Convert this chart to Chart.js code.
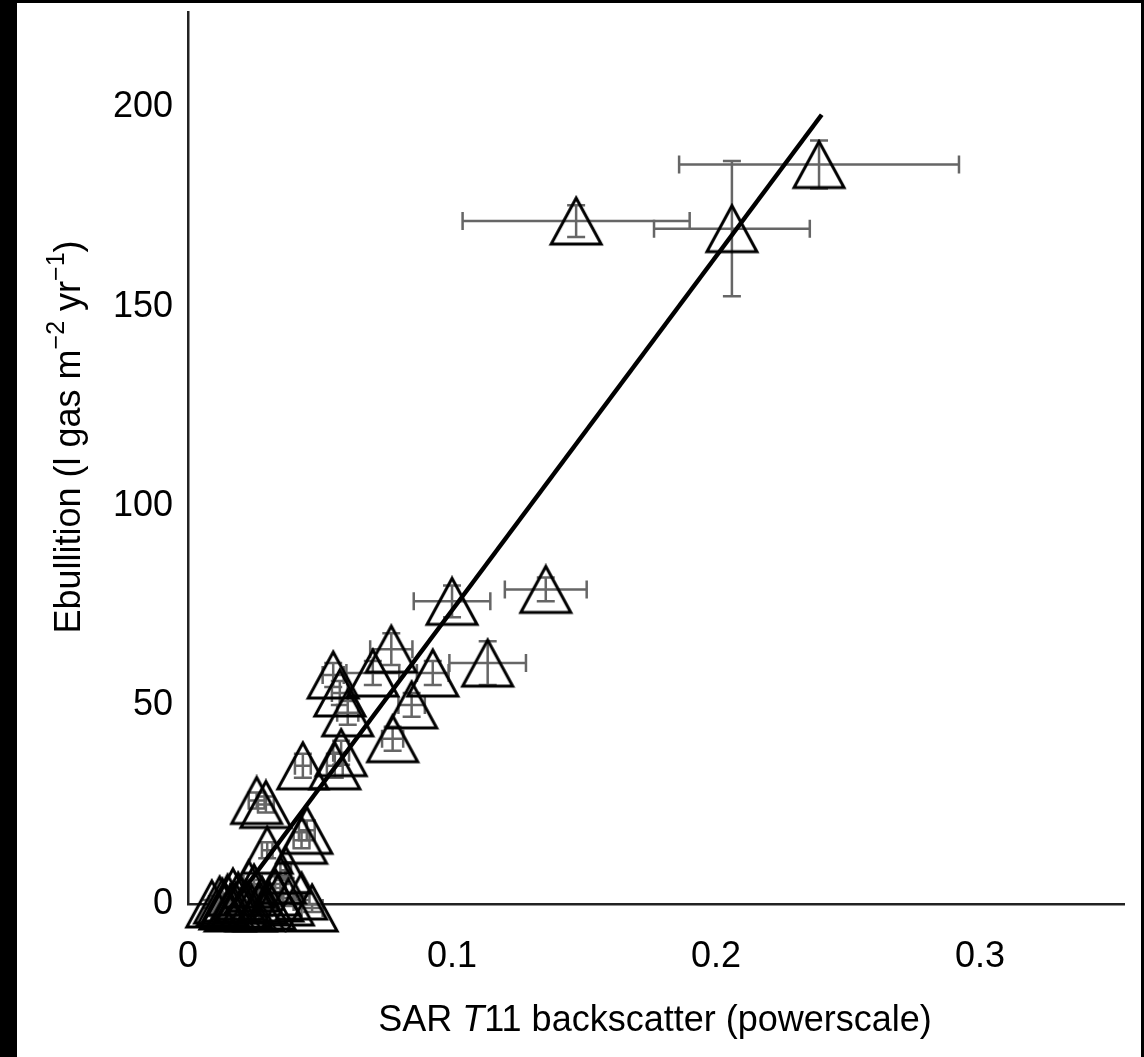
<!DOCTYPE html>
<html>
<head>
<meta charset="utf-8">
<script src="https://cdn.jsdelivr.net/npm/chart.js@4/dist/chart.umd.min.js"></script>
<style>
  html, body { margin: 0; padding: 0; background: #000; }
  #wrap { position: absolute; left: 17px; top: 3px; width: 1124px; height: 1054px; background: #fff; }
</style>
</head>
<body>
<div id="wrap"><canvas id="EbChart"></canvas></div>
<script>
// values
const xVals = [0.239, 0.147, 0.206, 0.100, 0.1355, 0.1135,
  0.077, 0.055, 0.070, 0.0927, 0.0575, 0.0847, 0.0605, 0.0775, 0.0435, 0.0556, 0.058,
  0.026, 0.0295, 0.045, 0.043, 0.030, 0.037,
  0.047, 0.043, 0.038, 0.033, 0.028, 0.025, 0.022, 0.019, 0.016, 0.013, 0.011, 0.009,
  0.015, 0.018, 0.023, 0.031, 0.035, 0.012, 0.014, 0.020, 0.017, 0.027,
  0.010, 0.013, 0.016, 0.019, 0.021, 0.024, 0.029, 0.034];
const yVals = [185.7, 171.5, 169.6, 76, 79, 60.5,
  64, 57.5, 58, 58, 53, 50, 48, 41.5, 34.7, 34.7, 38,
  26, 25, 18.5, 16, 13.5, 8.5,
  -1, 2, 0.5, 3, 1, 4, 0, 2, -1, 0.5, -1.5, 0,
  1.5, -0.5, 5, -0.5, 6, 1, -0.5, 1, 3, -1,
  -2, -2.5, -2, -1.5, -2, -1, -2, 1.5];
const xErr = [0.053, 0.043, 0.0295, 0.0145, 0.0155, 0.0145,
  0.008, 0.004, 0.01, 0.006, 0.003, 0.005, 0.004, 0.004, 0.003, 0.003, 0.003,
  0.003, 0.003, 0.003, 0.003, 0.002, 0.002,
  0.004, 0.003, 0.002, 0.002, 0.002, 0.002, 0.002, 0.002, 0.002, 0.002, 0.001, 0.001,
  0.002, 0.002, 0.002, 0.002, 0.002, 0.001, 0.001, 0.001, 0.001, 0.002,
  0.001, 0.001, 0.001, 0.001, 0.001, 0.001, 0.002, 0.002];
const yErr = [6, 4, 17, 4, 3, 5.5,
  4, 3, 3, 3, 3, 3, 3, 3, 3, 3, 3,
  2, 2, 2.5, 2, 2, 2,
  1, 1, 1, 1, 1, 1, 1, 1, 1, 1, 1, 1,
  1, 1, 1, 1, 1, 1, 1, 1, 1, 1,
  1, 1, 1, 1, 1, 1, 1, 1];
// fitted line end points
const fitX = [0.014, 0.240];
const fitY = [-2.7, 198.2];

const xTicks = [0, 0.1, 0.2, 0.3];

// open triangle marker
const tri = document.createElement('canvas');
tri.width = 56; tri.height = 52;
(function () {
  const c = tri.getContext('2d');
  c.strokeStyle = '#000';
  c.lineWidth = 3;
  c.lineJoin = 'miter';
  c.beginPath();
  c.moveTo(28, 3); c.lineTo(53, 49); c.lineTo(3, 49); c.closePath();
  c.stroke();
})();

const errorBars = {
  id: 'errorBars',
  beforeDatasetsDraw(chart) {
    const ctx = chart.ctx, xs = chart.scales.x, ys = chart.scales.y;
    const cap = 9;
    ctx.save();
    ctx.strokeStyle = '#666';
    ctx.lineWidth = 2.5;
    xVals.forEach(function (v, i) {
      const px = xs.getPixelForValue(v), py = ys.getPixelForValue(yVals[i]);
      const xl = xs.getPixelForValue(v - xErr[i]), xr = xs.getPixelForValue(v + xErr[i]);
      const yt = ys.getPixelForValue(yVals[i] + yErr[i]), yb = ys.getPixelForValue(yVals[i] - yErr[i]);
      ctx.beginPath();
      ctx.moveTo(xl, py); ctx.lineTo(xr, py);
      ctx.moveTo(xl, py - cap); ctx.lineTo(xl, py + cap);
      ctx.moveTo(xr, py - cap); ctx.lineTo(xr, py + cap);
      ctx.moveTo(px, yt); ctx.lineTo(px, yb);
      ctx.moveTo(px - cap, yt); ctx.lineTo(px + cap, yt);
      ctx.moveTo(px - cap, yb); ctx.lineTo(px + cap, yb);
      ctx.stroke();
    });
    ctx.restore();
  }
};

// axis titles (superscripts and italic T)
const axisTitles = {
  id: 'axisTitles',
  afterDraw(chart) {
    const ctx = chart.ctx;
    const base = '36px "Liberation Sans", Arial, sans-serif';
    const small = '25px "Liberation Sans", Arial, sans-serif';
    ctx.save();
    ctx.fillStyle = '#000';
    ctx.textBaseline = 'middle';
    ctx.textAlign = 'left';

    // x title
    const xparts = [['SAR ', base], ['T', 'italic ' + base], ['11 backscatter (powerscale)', base]];
    let w = 0;
    xparts.forEach(function (p) { ctx.font = p[1]; w += ctx.measureText(p[0]).width; });
    let cx = 638 - w / 2;
    xparts.forEach(function (p) { ctx.font = p[1]; ctx.fillText(p[0], cx, 1018); cx += ctx.measureText(p[0]).width; });

    // y title
    const yparts = [['Ebullition (l gas m', base, 0], ['\u22122', small, -13], [' yr', base, 0], ['\u22121', small, -13], [')', base, 0]];
    ctx.translate(53, 434);
    ctx.rotate(-Math.PI / 2);
    w = 0;
    yparts.forEach(function (p) { ctx.font = p[1]; w += ctx.measureText(p[0]).width; });
    cx = -w / 2;
    yparts.forEach(function (p) { ctx.font = p[1]; ctx.fillText(p[0], cx, p[2]); cx += ctx.measureText(p[0]).width; });
    ctx.restore();
  }
};

const tickFont = { family: '"Liberation Sans", Arial, sans-serif', size: 36 };

new Chart('EbChart', {
  data: {
    datasets: [{
      type: 'line',
      data: fitX.map(function (v, i) { return { x: v, y: fitY[i] }; }),
      borderColor: '#000',
      borderWidth: 4.5,
      pointRadius: 0,
      fill: false,
      clip: false,
      order: 0
    }, {
      type: 'scatter',
      data: xVals.map(function (v, i) { return { x: v, y: yVals[i] }; }),
      pointStyle: tri,
      clip: false,
      order: 1
    }]
  },
  options: {
    responsive: true,
    maintainAspectRatio: false,
    animation: false,
    layout: { padding: { top: 9, right: 17, left: 0, bottom: 0 } },
    plugins: { legend: { display: false }, tooltip: { enabled: false } },
    scales: {
      x: {
        type: 'linear',
        min: 0,
        max: 0.3545,
        grid: { display: false, drawTicks: false },
        border: { display: true, color: '#222', width: 2.5 },
        afterFit: function (s) { s.height = 153; s.paddingLeft = 0; s.paddingRight = 0; },
        afterBuildTicks: function (s) { s.ticks = xTicks.map(function (v) { return { value: v }; }); },
        ticks: { font: tickFont, color: '#000', padding: 31, maxRotation: 0 }
      },
      y: {
        type: 'linear',
        min: 0,
        max: 224,
        grid: { display: false, drawTicks: false },
        border: { display: true, color: '#222', width: 2.5 },
        afterFit: function (s) { s.width = 171; s.paddingTop = 0; s.paddingBottom = 0; },
        ticks: { font: tickFont, color: '#000', padding: 15, stepSize: 50, includeBounds: false }
      }
    }
  },
  plugins: [errorBars, axisTitles]
});
</script>
</body>
</html>
